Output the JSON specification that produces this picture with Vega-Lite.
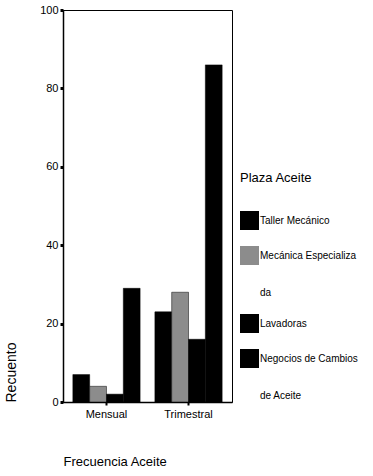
{
  "$schema": "https://vega.github.io/schema/vega-lite/v6.json",
  "autosize": "none",
  "width": 169,
  "height": 392,
  "padding": {"left": 63, "top": 10, "right": 141, "bottom": 74},
  "background": "white",
  "config": {
    "font": "Liberation Sans",
    "view": {"stroke": "black", "strokeWidth": 1},
    "style": {"guide-label": {"lineHeight": 37}}
  },
  "data": {
    "values": [
      {"frecuencia": "Mensual", "plaza": "Taller Mecánico", "recuento": 7},
      {"frecuencia": "Mensual", "plaza": "Mecánica Especializada", "recuento": 4},
      {"frecuencia": "Mensual", "plaza": "Lavadoras", "recuento": 2},
      {"frecuencia": "Mensual", "plaza": "Negocios de Cambios de Aceite", "recuento": 29},
      {"frecuencia": "Trimestral", "plaza": "Taller Mecánico", "recuento": 23},
      {"frecuencia": "Trimestral", "plaza": "Mecánica Especializada", "recuento": 28},
      {"frecuencia": "Trimestral", "plaza": "Lavadoras", "recuento": 16},
      {"frecuencia": "Trimestral", "plaza": "Negocios de Cambios de Aceite", "recuento": 86}
    ]
  },
  "mark": {"type": "bar", "stroke": "black", "strokeWidth": 0.5},
  "encoding": {
    "x": {
      "field": "frecuencia",
      "type": "nominal",
      "scale": {"paddingInner": 0.18, "paddingOuter": 0.12},
      "axis": {
        "title": "Frecuencia Aceite",
        "titleFontSize": 13,
        "titleFontWeight": "normal",
        "titleAnchor": "start",
        "titleAlign": "left",
        "titleY": 53,
        "titleX": 0,
        "labelAngle": 0,
        "labelFontSize": 11,
        "labelColor": "black",
        "labelPadding": 3,
        "tickSize": 3,
        "tickWidth": 2,
        "tickColor": "black",
        "domainColor": "black",
        "domainWidth": 1.5
      }
    },
    "xOffset": {
      "field": "plaza",
      "sort": ["Taller Mecánico", "Mecánica Especializada", "Lavadoras", "Negocios de Cambios de Aceite"],
      "scale": {"paddingInner": 0, "paddingOuter": 0}
    },
    "y": {
      "field": "recuento",
      "type": "quantitative",
      "scale": {"domain": [0, 100], "nice": false},
      "axis": {
        "title": "Recuento",
        "titleFontSize": 14,
        "titleFontWeight": "normal",
        "titleAnchor": "start",
        "titleX": -45,
        "titleY": 392,
        "titleAlign": "left",
        "titleAngle": -90,
        "values": [0, 20, 40, 60, 80, 100],
        "grid": false,
        "labelFontSize": 11,
        "labelColor": "black",
        "labelPadding": 2,
        "tickSize": 3,
        "tickWidth": 3,
        "tickColor": "black",
        "domainColor": "black",
        "domainWidth": 1.5
      }
    },
    "fill": {
      "field": "plaza",
      "type": "nominal",
      "sort": ["Taller Mecánico", "Mecánica Especializada", "Lavadoras", "Negocios de Cambios de Aceite"],
      "scale": {
        "domain": ["Taller Mecánico", "Mecánica Especializada", "Lavadoras", "Negocios de Cambios de Aceite"],
        "range": ["#000000", "#8c8c8c", "#000000", "#000000"]
      },
      "legend": {
        "title": "Plaza Aceite",
        "titleFontSize": 13,
        "titleFontWeight": "normal",
        "titleColor": "black",
        "titlePadding": 26,
        "orient": "none",
        "legendX": 177,
        "legendY": 162,
        "symbolType": "square",
        "symbolSize": 361,
        "symbolStrokeWidth": 0,
        "labelFontSize": 10,
        "labelColor": "black",
        "labelOffset": 1,
        "labelBaseline": "middle",
        "rowPadding": 16,
        "labelExpr": "datum.label == 'Mecánica Especializada' ? ['Mecánica Especializa', 'da'] : datum.label == 'Negocios de Cambios de Aceite' ? ['Negocios de Cambios', 'de Aceite'] : datum.label"
      }
    }
  }
}
